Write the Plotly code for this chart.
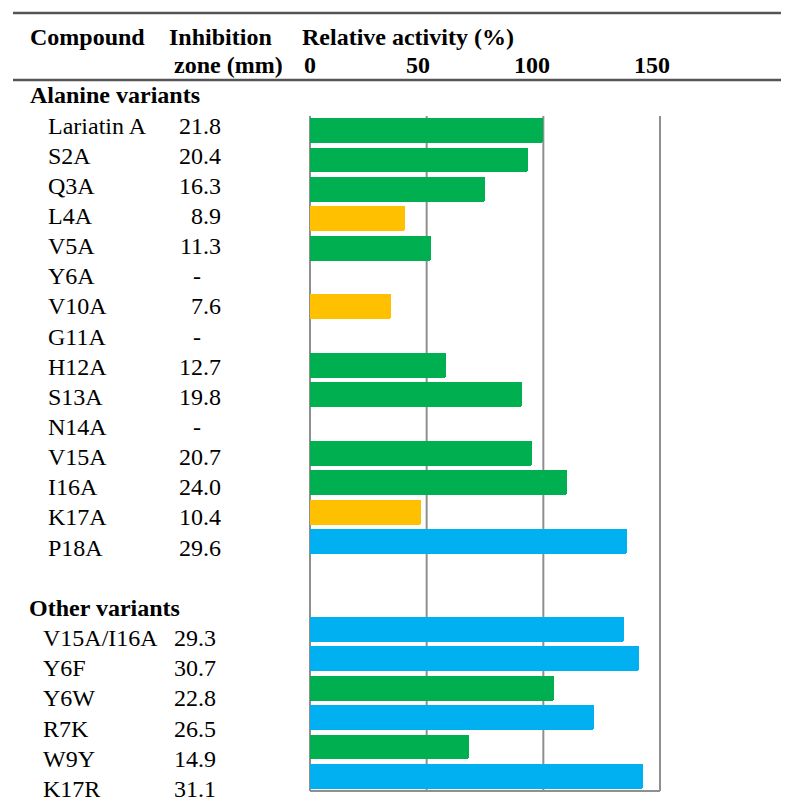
import plotly.graph_objects as go

# ---------------- data ----------------
alanine_names = ["Lariatin A", "S2A", "Q3A", "L4A", "V5A", "Y6A", "V10A", "G11A",
                 "H12A", "S13A", "N14A", "V15A", "I16A", "K17A", "P18A"]
alanine_zone = ["21.8", "20.4", "16.3", "8.9", "11.3", "-", "7.6", "-",
                "12.7", "19.8", "-", "20.7", "24.0", "10.4", "29.6"]
alanine_activity = [100.0, 93.6, 74.8, 40.8, 51.8, None, 34.9, None,
                    58.3, 90.8, None, 95.0, 110.1, 47.7, 135.8]
alanine_class = ["mid", "mid", "mid", "low", "mid", None, "low", None,
                 "mid", "mid", None, "mid", "mid", "low", "high"]

other_names = ["V15A/I16A", "Y6F", "Y6W", "R7K", "W9Y", "K17R"]
other_zone = ["29.3", "30.7", "22.8", "26.5", "14.9", "31.1"]
other_activity = [134.4, 140.8, 104.6, 121.6, 68.3, 142.7]
other_class = ["high", "high", "mid", "high", "mid", "high"]

axis_ticks = [0, 50, 100, 150]
group_titles = ["Alanine variants", "Other variants"]
col_headers = ["Compound", "Inhibition", "zone (mm)", "Relative activity (%)"]

class_colors = {"low": "#FFC000", "mid": "#00B050", "high": "#00B0F0"}

# ---------------- layout helpers ----------------
PAGE_W, PAGE_H = 789, 811
OFF = 8                      # default body margin of the html page
W, H = PAGE_W - OFF, PAGE_H - OFF
FONT = "Liberation Serif"
FS = 24
GRID = "#8f8f8f"


def px(x):
    return (x - OFF) / W


def py(y):
    return 1 - (y - OFF) / H


X_DOMAIN = [px(310), px(660)]
Y_DOMAIN = [py(791), py(116)]
X_RANGE = [axis_ticks[0], axis_ticks[-1]]


def x_to_paper(v):
    return X_DOMAIN[0] + (v - X_RANGE[0]) / (X_RANGE[1] - X_RANGE[0]) * (X_DOMAIN[1] - X_DOMAIN[0])


# row positions: alanine rows, two spacer rows, other rows
gap = 2
alanine_pos = list(range(len(alanine_names)))
other_pos = [len(alanine_names) + gap + i for i in range(len(other_names))]
n_rows = other_pos[-1] + 1

# text rows in the table have their own pitch (page pixels)
TEXT_TOP, TEXT_PITCH = 125.5, 30.15


def row_y(p):
    return py(TEXT_TOP + TEXT_PITCH * p)


fig = go.Figure()

bar_y, bar_x, bar_c = [], [], []
for p, v, c in zip(alanine_pos + other_pos, alanine_activity + other_activity,
                   alanine_class + other_class):
    if v is not None:
        bar_y.append(p)
        bar_x.append(v)
        bar_c.append(class_colors[c])

fig.add_trace(go.Bar(
    x=bar_x, y=bar_y, orientation="h",
    marker=dict(color=bar_c, line=dict(width=0), cornerradius=2),
    width=0.85, hoverinfo="x+y", showlegend=False,
))

ann = []


def text(t, x, y, xanchor="left", bold=False):
    ann.append(dict(
        text=f"<b>{t}</b>" if bold else t,
        x=x, y=y, xref="paper", yref="paper", xanchor=xanchor, yanchor="middle",
        showarrow=False,
        font=dict(family=FONT, size=FS, color="black"),
    ))


# column headers
text(col_headers[0], px(28), py(37), bold=True)
text(col_headers[1], px(167), py(37), bold=True)
text(col_headers[2], px(172), py(65), bold=True)
text(col_headers[3], px(300), py(37), bold=True)

# axis tick labels on top
tick_shift = [0, -9, -11, -8]
for t, s in zip(axis_ticks, tick_shift):
    ann.append(dict(
        text=f"<b>{t}</b>", x=t, y=py(65), xref="x", yref="paper",
        xanchor="center", yanchor="middle", showarrow=False, xshift=s,
        font=dict(family=FONT, size=FS, color="black"),
    ))

# group titles
text(group_titles[0], px(28), row_y(alanine_pos[0] - 1), bold=True)
text(group_titles[1], px(27), row_y(other_pos[0] - 1), bold=True)

# rows
for p, n, z in zip(alanine_pos, alanine_names, alanine_zone):
    text(n, px(46), row_y(p))
    if z == "-":
        text(z, px(197), row_y(p), xanchor="center")
    else:
        text(z, px(223), row_y(p), xanchor="right")

for p, n, z in zip(other_pos, other_names, other_zone):
    text(n, px(41), row_y(p))
    text(z, px(218), row_y(p), xanchor="right")

shapes = []
# horizontal rules of the table
for yy in (13, 80):
    shapes.append(dict(type="line", xref="paper", yref="paper",
                       x0=px(13), x1=1.0, y0=py(yy), y1=py(yy),
                       line=dict(color="#555555", width=2.5)))
# vertical grid lines (incl. frame at 0 and 150), drawn below the bars
for t in axis_ticks:
    xp = x_to_paper(t)
    shapes.append(dict(type="line", xref="paper", yref="paper",
                       x0=xp, x1=xp, y0=Y_DOMAIN[0], y1=Y_DOMAIN[1], layer="below",
                       line=dict(color=GRID, width=2)))
# bottom frame line
shapes.append(dict(type="line", xref="paper", yref="paper",
                   x0=x_to_paper(axis_ticks[0]), x1=x_to_paper(axis_ticks[-1]),
                   y0=Y_DOMAIN[0], y1=Y_DOMAIN[0],
                   line=dict(color=GRID, width=2)))

fig.update_layout(
    width=W, height=H,
    margin=dict(l=0, r=0, t=0, b=0),
    paper_bgcolor="white", plot_bgcolor="white",
    bargap=0,
    xaxis=dict(
        domain=X_DOMAIN, range=X_RANGE,
        showticklabels=False, ticks="", showgrid=False,
        zeroline=False, showline=False, fixedrange=True,
    ),
    yaxis=dict(
        domain=Y_DOMAIN, range=[n_rows - 0.5, -0.5],
        showticklabels=False, showgrid=False, zeroline=False, showline=False,
        ticks="", fixedrange=True,
    ),
    annotations=ann,
    shapes=shapes,
    font=dict(family=FONT),
)

fig.write_html("out.html")
